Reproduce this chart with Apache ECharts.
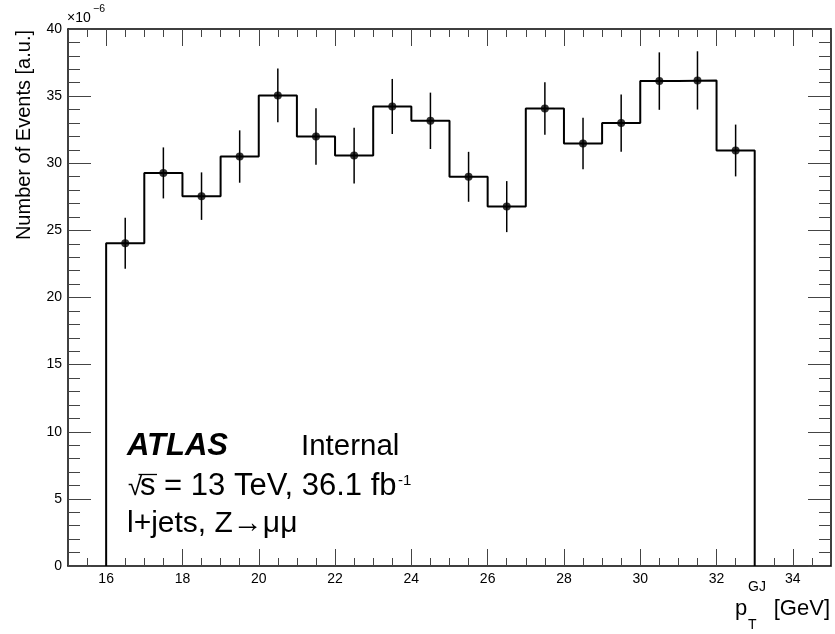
<!DOCTYPE html>
<html>
<head>
<meta charset="utf-8">
<script src="https://cdn.jsdelivr.net/npm/echarts@6/dist/echarts.min.js"></script>
<style>
  html, body { margin: 0; padding: 0; background: #fff; }
  #chart { width: 835px; height: 634px; }
</style>
</head>
<body>
<div id="chart"></div>
<script>
// Histogram of p_T^GJ, normalised (units of 1e-6)
const binLow = [16, 17, 18, 19, 20, 21, 22, 23, 24, 25, 26, 27, 28, 29, 30, 31, 32];
const binWidth = 1;
const values = [24.04, 29.28, 27.55, 30.50, 35.05, 31.99, 30.57, 34.23, 33.16,
                28.99, 26.77, 34.08, 31.47, 32.99, 36.12, 36.17, 30.95];
const errors = [1.90, 1.90, 1.77, 1.95, 2.00, 2.10, 2.07, 2.05, 2.10,
                1.86, 1.90, 1.95, 1.92, 2.14, 2.14, 2.17, 1.93];

const xRange = [15, 35];
const xTicks = [16, 18, 20, 22, 24, 26, 28, 30, 32, 34];
const xMinorStep = 0.5;
const yTicks = [0, 5, 10, 15, 20, 25, 30, 35, 40];

const FONT = '"Liberation Sans", Arial, Helvetica, sans-serif';

// outline of the histogram: rise from zero at the first edge, flat tops, drop at the last edge
const stepPoints = [[binLow[0], 0]];
binLow.forEach((lo, i) => {
  stepPoints.push([lo, values[i]]);
  stepPoints.push([lo + binWidth, values[i]]);
});
stepPoints.push([binLow[binLow.length - 1] + binWidth, 0]);

const points = binLow.map((lo, i) => [lo + binWidth / 2, values[i], errors[i]]);

const chart = echarts.init(document.getElementById('chart'), null, { renderer: 'canvas' });

const tickColor = '#444';
const frame = { show: true, lineStyle: { color: '#000', width: 1.5 } };

function xAxisMajor(position, withLabels) {
  return {
    type: 'value', position: position, min: xRange[0], max: xRange[1],
    axisLine: frame,
    axisTick: { show: true, inside: true, length: 17, customValues: xTicks,
                lineStyle: { color: tickColor, width: 1 } },
    axisLabel: withLabels
      ? { show: true, customValues: xTicks, fontFamily: FONT, fontSize: 14, color: '#000', margin: 6 }
      : { show: false },
    splitLine: { show: false }
  };
}
function xAxisMinor(position) {
  return {
    type: 'value', position: position, min: xRange[0], max: xRange[1], interval: xMinorStep,
    axisLine: { show: false },
    axisTick: { show: true, inside: true, length: 8, lineStyle: { color: tickColor, width: 1 } },
    axisLabel: { show: false },
    splitLine: { show: false }
  };
}
function yAxisDef(position, withLabels) {
  return {
    type: 'value', position: position,
    min: yTicks[0], max: yTicks[yTicks.length - 1], interval: yTicks[1] - yTicks[0],
    axisLine: frame,
    axisTick: { show: true, inside: true, length: 23, lineStyle: { color: tickColor, width: 1 } },
    minorTick: { show: true, splitNumber: 5, length: 12, lineStyle: { color: tickColor, width: 1 } },
    axisLabel: withLabels
      ? { show: true, fontFamily: FONT, fontSize: 14, color: '#000', margin: 6 }
      : { show: false },
    splitLine: { show: false },
    minorSplitLine: { show: false }
  };
}

const textStyle = (text, size, extra) => Object.assign({
  text: text, fontFamily: FONT, fontSize: size, fill: '#000',
  align: 'left', verticalAlign: 'middle'
}, extra || {});

chart.setOption({
  animation: false,
  backgroundColor: '#fff',
  grid: { left: 68, right: 4, top: 29, bottom: 68, containLabel: false },
  xAxis: [
    xAxisMajor('bottom', true),
    xAxisMinor('bottom'),
    xAxisMajor('top', false),
    xAxisMinor('top')
  ],
  yAxis: [
    yAxisDef('left', true),
    yAxisDef('right', false)
  ],
  series: [
    {
      type: 'line', data: stepPoints, xAxisIndex: 0, yAxisIndex: 0,
      symbol: 'none', lineStyle: { color: '#000', width: 2 }, z: 3
    },
    {
      type: 'custom', data: points, xAxisIndex: 0, yAxisIndex: 0, z: 4,
      renderItem: function (params, api) {
        const x = api.value(0), y = api.value(1), e = api.value(2);
        const hi = api.coord([x, y + e]);
        const lo = api.coord([x, y - e]);
        return {
          type: 'line',
          shape: { x1: hi[0], y1: hi[1], x2: lo[0], y2: lo[1] },
          style: { stroke: '#000', lineWidth: 1.5 }
        };
      }
    },
    {
      type: 'scatter', data: points.map(p => [p[0], p[1]]), xAxisIndex: 0, yAxisIndex: 0,
      symbol: 'circle', symbolSize: 8, itemStyle: { color: '#000' }, z: 5
    }
  ],
  graphic: [
    // axis titles
    { type: 'text', x: 24.5, y: 30, rotation: Math.PI / 2,
      style: textStyle('Number of Events [a.u.]', 20, { align: 'right' }) },
    { type: 'text', x: 735, y: 609.3, style: textStyle('p', 22) },
    { type: 'text', x: 748, y: 586.8, style: textStyle('GJ', 14) },
    { type: 'text', x: 748, y: 625, style: textStyle('T', 14) },
    { type: 'text', x: 830, y: 609.3, style: textStyle('[GeV]', 22, { align: 'right' }) },
    // exponent of the y axis
    { type: 'text', x: 67, y: 18.4, style: textStyle('\u00d710', 14) },
    { type: 'text', x: 93, y: 9.6, style: textStyle('\u22126', 10.5) },
    // labels
    { type: 'text', x: 127, y: 446.3,
      style: textStyle('ATLAS', 31, { fontWeight: 'bold', fontStyle: 'italic' }) },
    { type: 'text', x: 301, y: 446.8, style: textStyle('Internal', 29.5) },
    { type: 'text', x: 128, y: 488, style: textStyle('\u221a', 26) },
    { type: 'line', shape: { x1: 138.5, y1: 474.5, x2: 157, y2: 474.5 },
      style: { stroke: '#000', lineWidth: 1.3 } },
    { type: 'text', x: 140, y: 486.3, style: textStyle('s = 13 TeV, 36.1 fb', 31) },
    { type: 'text', x: 398, y: 481, style: textStyle('-1', 15) },
    { type: 'text', x: 127, y: 523.6, style: textStyle('l+jets, Z\u2192\u03bc\u03bc', 30) }
  ]
});
</script>
</body>
</html>
